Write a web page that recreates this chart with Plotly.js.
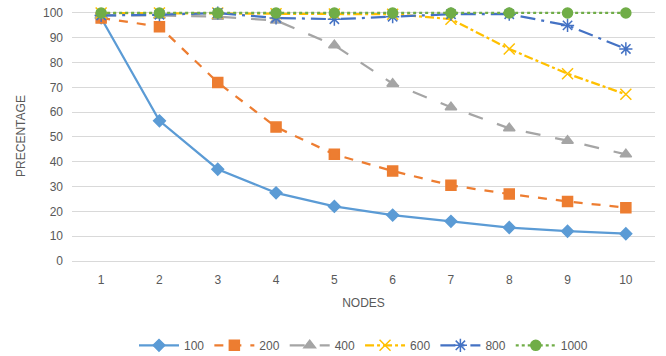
<!DOCTYPE html>
<html><head><meta charset="utf-8">
<script src="https://cdn.plot.ly/plotly-3.0.1.min.js"></script>
<style>body{margin:0;padding:0;background:#fff}#c{width:666px;height:356px}</style>
</head><body><div id="c"></div>
<script>
const nodes = [1,2,3,4,5,6,7,8,9,10];
const seriesNames = ["100","200","400","600","800","1000"];
const s100 = [98, 56.5, 37, 27.5, 22, 18.5, 16, 13.5, 12, 11];
const s200 = [98, 94.5, 72, 54, 43, 36.3, 30.5, 27, 24, 21.5];
const s400 = [99, 99, 98.5, 97, 87, 71.5, 62, 53.5, 48.5, 43];
const s600 = [100, 100, 100, 99.7, 99.6, 99.5, 97.5, 85.5, 75.5, 67.2];
const s800 = [99, 99.3, 100, 98, 97.5, 98.5, 99.5, 99.5, 95, 85.5];
const s1000 = [100, 100, 100, 100, 100, 100, 100, 100, 100, 100];
const values = [s100, s200, s400, s600, s800, s1000];
const colors = ["#5B9BD5","#ED7D31","#A5A5A5","#FFC000","#4472C4","#70AD47"];
const dashes = ["solid","dash","longdash","dashdot","longdashdot","dot"];
const symbols = ["diamond","square","triangle-up","x-thin-open","asterisk-open","circle"];
const sizes = [9,10,10,11,11,10];
const traces = seriesNames.map((n,i)=>({
  x: nodes, y: values[i], name: n, type: "scatter", mode: "lines+markers", cliponaxis: false,
  line: {color: colors[i], width: 2.25, dash: dashes[i]},
  marker: {symbol: symbols[i], size: sizes[i], color: colors[i], line: {color: colors[i], width: 1.5}}
}));
const layout = {
  width: 666, height: 356,
  margin: {l: 72, r: 11, t: 11, b: 95},
  paper_bgcolor: "#fff", plot_bgcolor: "#fff",
  font: {family: "Liberation Sans, Arial, sans-serif", size: 12, color: "#595959"},
  xaxis: {range: [0.5, 10.5], tickvals: nodes, ticktext: nodes.map(String), showgrid: false,
    zeroline: false, showline: false, ticks: "", automargin: false, ticklabelstandoff: 10,
    title: {text: "NODES", font: {size: 12, color: "#595959"}, standoff: 12}},
  yaxis: {range: [0, 100.8], tickvals: [0,10,20,30,40,50,60,70,80,90,100], showgrid: true, gridcolor: "#D9D9D9", gridwidth: 1,
    zeroline: true, zerolinecolor: "#D9D9D9", zerolinewidth: 1, showline: false, ticks: "",
    automargin: false, ticklabelstandoff: 8,
    title: {text: "PRECENTAGE", font: {size: 12, color: "#595959"}, standoff: 14}},
  showlegend: true,
  legend: {orientation: "h", x: 0.5, xanchor: "center", yref: "container", y: 0.03, yanchor: "middle",
    font: {size: 12, color: "#595959"}, itemwidth: 40, tracegroupgap: 0}
};
Plotly.newPlot("c", traces, layout, {displayModeBar: false, staticPlot: true});
</script></body></html>
